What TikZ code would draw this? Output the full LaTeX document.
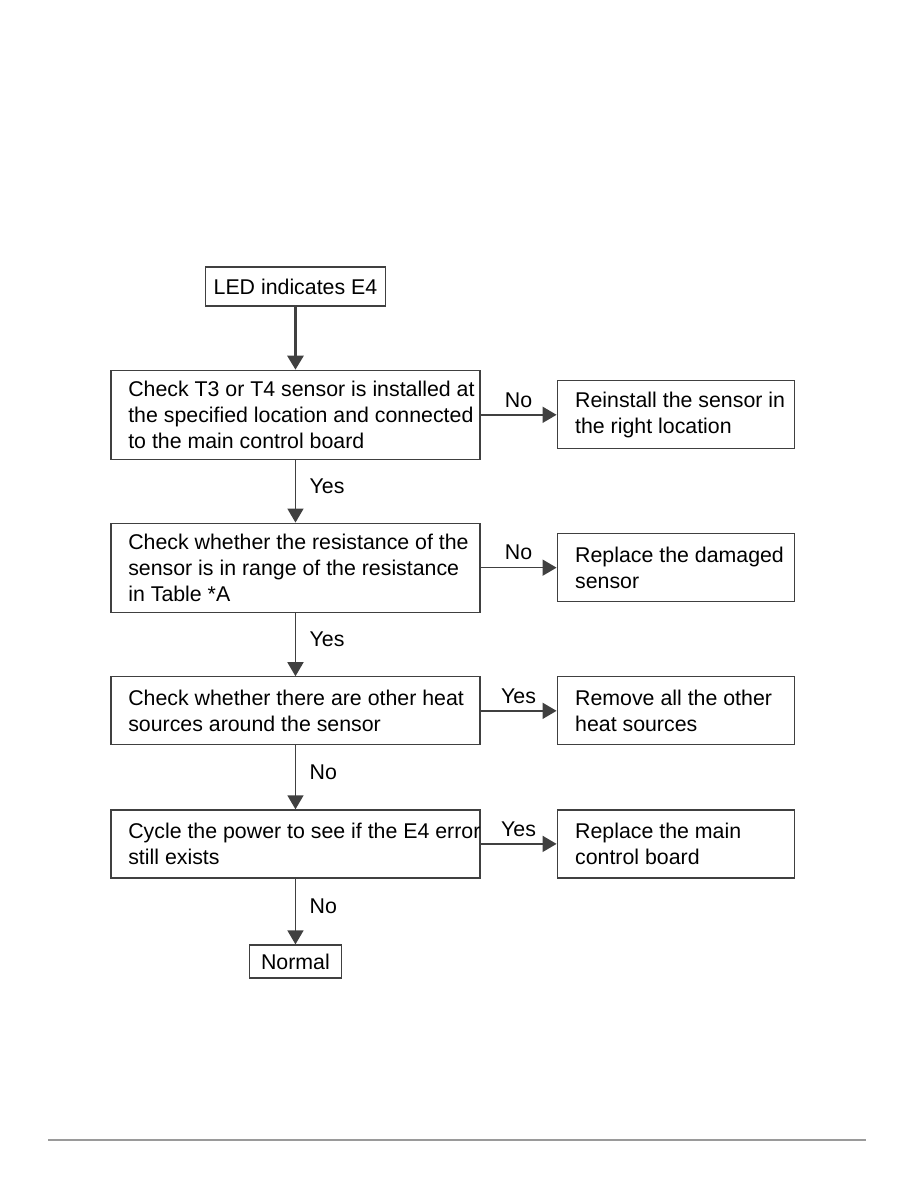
\documentclass[tikz,border=0pt]{standalone}
\usepackage{fontspec}
\setmainfont{Liberation Sans}
\usetikzlibrary{arrows.meta,positioning}
\definecolor{linegray}{HTML}{404040}
\definecolor{rulegray}{HTML}{9A9A9A}

\begin{document}
\begin{tikzpicture}[
  font=\fontsize{16pt}{19.5pt}\selectfont,
  node distance=47pt,
  term/.style={draw=linegray, line width=0.9pt, inner xsep=6.4pt, inner ysep=0pt},
  check/.style={draw=linegray, line width=0.9pt, text width=276.75pt, minimum height=51pt, inner xsep=0pt, inner ysep=0pt, align=left,
    execute at begin node={\leftskip=13pt\rightskip=-10pt plus 1fil\relax\spaceskip=\fontdimen2\font\relax}},
  action/.style={check, text width=177.75pt, execute at begin node={\leftskip=13.5pt\relax}},
  arrow/.style={-{Triangle[length=10.5pt,width=12pt]}, draw=linegray, line width=1.2pt},
  answer/.style={inner sep=0pt}
]
  \useasboundingbox (0,0) rectangle (688.5pt,-891pt);

  \node[term, minimum height=29.25pt] (led) at (221.6pt,-214.9pt) {LED indicates E4};

  \node[check, minimum height=66.75pt, below=47.3pt of led] (c1) {Check T3 or T4 sensor is installed at\\the specified location and connected\\to the main control board};
  \node[action, right=57pt of c1] (r1) {Reinstall the sensor in\\the right location};

  \node[check, minimum height=66.75pt, below=of c1] (c2) {Check whether the resistance of the\\sensor is in range of the resistance\\in Table *A};
  \node[action, right=57pt of c2] (r2) {Replace the damaged\\sensor};

  \node[check, below=47.6pt of c2] (c3) {Check whether there are other heat\\sources around the sensor};
  \node[action, right=57pt of c3] (r3) {Remove all the other\\heat sources};

  \node[check, below=47.9pt of c3] (c4) {Cycle the power to see if the E4 error\\still exists};
  \node[action, right=57pt of c4] (r4) {Replace the main\\control board};

  \node[term, minimum width=69pt, minimum height=24.75pt, below=49.4pt of c4] (normal) {Normal};

  \draw[arrow, line width=2pt] (led.south) -- (c1.north);
  \draw[arrow] (c1) -- node[answer, right=10pt, pos=0.42] (y1) {Yes} (c2);
  \draw[arrow] (c2) -- node[answer, right=10pt, pos=0.42] (y2) {Yes} (c3);
  \draw[arrow] (c3) -- node[answer, right=10pt, pos=0.42] (n3) {No} (c4);
  \draw[arrow] (c4) -- node[answer, right=10pt, pos=0.42] (n4) {No} (normal);

  \draw[arrow] (c1) -- node[answer, above=5pt] (n1) {No} (r1);
  \draw[arrow] (c2) -- node[answer, above=5pt] (n2) {No} (r2);
  \draw[arrow] (c3) -- node[answer, above=5pt] (y3) {Yes} (r3);
  \draw[arrow] (c4) -- node[answer, above=5pt] (y4) {Yes} (r4);

  % page rule
  \draw[rulegray, line width=1.5pt] (36pt,-855pt) -- (649.5pt,-855pt);
\end{tikzpicture}
\end{document}
